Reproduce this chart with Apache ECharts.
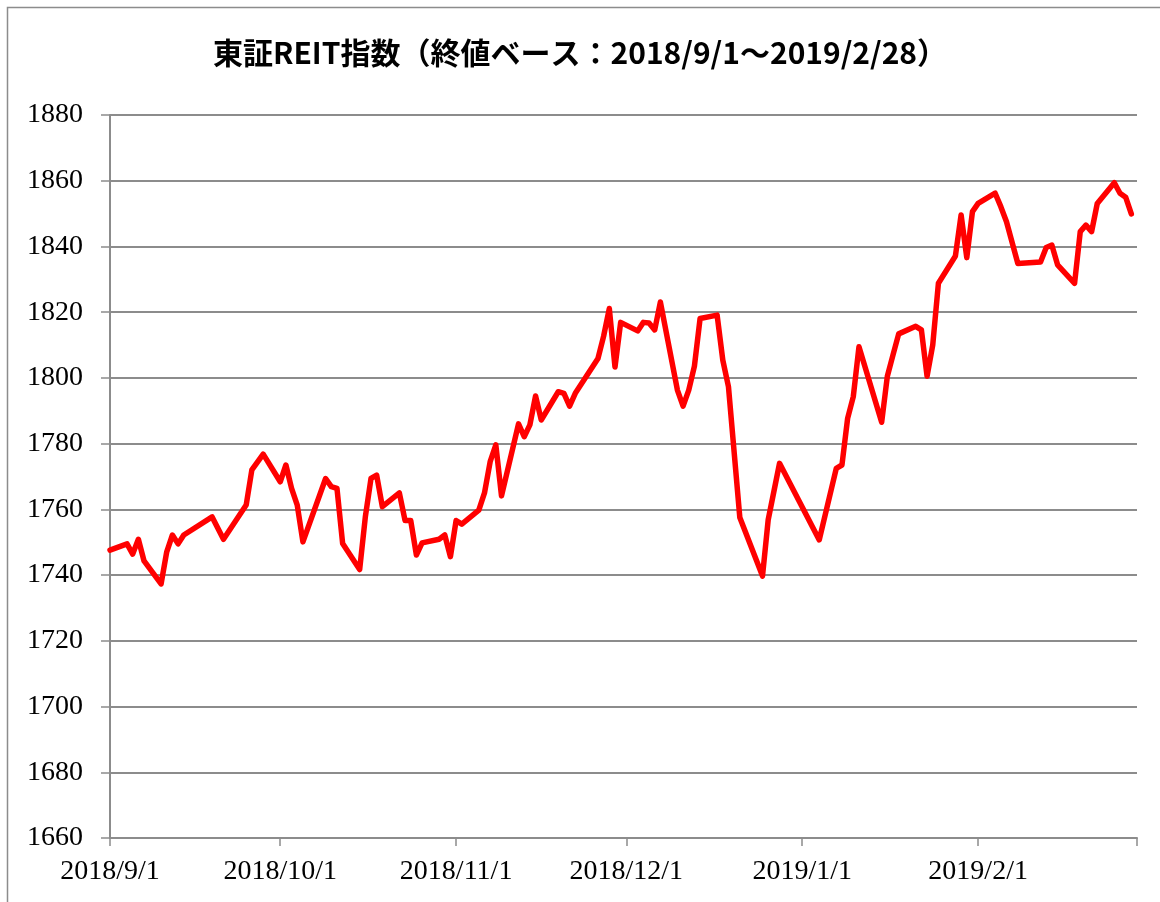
<!DOCTYPE html>
<html>
<head>
<meta charset="utf-8">
<script src="https://cdn.jsdelivr.net/npm/echarts@6/dist/echarts.min.js"></script>
<style>
html,body{margin:0;padding:0;background:#fff;}
#chart{width:1160px;height:902px;}
</style>
</head>
<body>
<div id="chart"></div>
<script>
const titleText = '東証REIT指数（終値ベース：2018/9/1～2019/2/28）';
const dates = [
'2018-09-01','2018-09-04','2018-09-05','2018-09-06','2018-09-07','2018-09-10','2018-09-11','2018-09-12','2018-09-13','2018-09-14',
'2018-09-19','2018-09-21','2018-09-25','2018-09-26','2018-09-28',
'2018-10-01','2018-10-02','2018-10-03','2018-10-04','2018-10-05','2018-10-09','2018-10-10','2018-10-11','2018-10-12',
'2018-10-15','2018-10-16','2018-10-17','2018-10-18','2018-10-19','2018-10-22','2018-10-23','2018-10-24','2018-10-25','2018-10-26',
'2018-10-29','2018-10-30','2018-10-31',
'2018-11-01','2018-11-02','2018-11-05','2018-11-06','2018-11-07','2018-11-08','2018-11-09','2018-11-12','2018-11-13','2018-11-14',
'2018-11-15','2018-11-16','2018-11-19','2018-11-20','2018-11-21','2018-11-22','2018-11-26','2018-11-27','2018-11-28','2018-11-29','2018-11-30',
'2018-12-03','2018-12-04','2018-12-05','2018-12-06','2018-12-07','2018-12-10','2018-12-11','2018-12-12','2018-12-13','2018-12-14',
'2018-12-17','2018-12-18','2018-12-19','2018-12-21','2018-12-25','2018-12-26','2018-12-28',
'2019-01-04','2019-01-07','2019-01-08','2019-01-09','2019-01-10','2019-01-11','2019-01-15','2019-01-16','2019-01-17','2019-01-18',
'2019-01-21','2019-01-22','2019-01-23','2019-01-24','2019-01-25','2019-01-28','2019-01-29','2019-01-30','2019-01-31',
'2019-02-01','2019-02-04','2019-02-05','2019-02-06','2019-02-08','2019-02-12','2019-02-13','2019-02-14','2019-02-15',
'2019-02-18','2019-02-19','2019-02-20','2019-02-21','2019-02-22','2019-02-25','2019-02-26','2019-02-27','2019-02-28'
];
const values = [
1747.6,1749.5,1746.4,1750.9,1744.3,1737.3,1747.1,1752.2,1749.5,1752.2,
1757.7,1750.9,1761.3,1772.0,1776.8,
1768.4,1773.5,1766.4,1761.3,1750.1,1769.4,1766.9,1766.4,1749.6,
1741.7,1757.7,1769.4,1770.4,1760.8,1765.0,1756.6,1756.6,1746.1,1749.8,
1750.9,1752.2,1745.6,
1756.6,1755.5,1759.8,1765.0,1774.5,1779.6,1764.1,1786.0,1782.1,1785.7,
1794.5,1787.2,1795.8,1795.3,1791.4,1795.3,1805.9,1812.7,1821.1,1803.3,1816.9,
1814.3,1816.9,1816.7,1814.6,1823.1,1796.3,1791.4,1796.3,1803.6,1818.1,
1819.1,1805.4,1797.3,1757.5,1739.7,1756.8,1774.0,
1750.7,1772.5,1773.5,1787.7,1794.3,1809.5,1786.5,1800.5,1807.0,1813.4,
1815.7,1814.6,1800.5,1810.0,1828.8,1837.1,1849.6,1836.6,1850.6,
1853.1,1856.2,1852.1,1847.5,1834.8,1835.3,1839.7,1840.4,1834.4,
1828.8,1844.5,1846.5,1844.5,1853.1,1859.4,1856.2,1855.0,1849.9
];
const xMin = '2018-09-01';
const xMax = '2019-03-01';
const tickDates = ['2018-09-01','2018-10-01','2018-11-01','2018-12-01','2019-01-01','2019-02-01','2019-03-01'];
const labelDates = ['2018-09-01','2018-10-01','2018-11-01','2018-12-01','2019-01-01','2019-02-01'];
const yMin = 1660, yMax = 1880, yStep = 20;

function ts(s){ const p = s.split('-').map(Number); return Date.UTC(p[0], p[1]-1, p[2]); }
function fmt(v){ const d = new Date(v); return d.getUTCFullYear() + '/' + (d.getUTCMonth()+1) + '/' + d.getUTCDate(); }

const chart = echarts.init(document.getElementById('chart'), null, {renderer:'canvas'});
const gridColor = '#8c8c8c';
chart.setOption({
  animation: false,
  backgroundColor: '#ffffff',
  title: {
    text: titleText,
    left: 'center',
    top: 33,
    textStyle: {
      fontFamily: '"Noto Sans CJK JP", "Noto Sans", sans-serif',
      fontWeight: 'bold',
      fontSize: 30,
      color: '#000'
    }
  },
  graphic: [{
    type: 'rect',
    shape: {x: 7.5, y: 7.5, width: 1200, height: 1000},
    style: {fill: 'none', stroke: '#8c8c8c', lineWidth: 1.5},
    silent: true
  }],
  grid: {left: 110, right: 23, top: 115, bottom: 64, containLabel: false},
  xAxis: {
    type: 'value',
    min: ts(xMin),
    max: ts(xMax),
    axisLine: {show: true, onZero: false, lineStyle: {color: gridColor, width: 2}},
    axisTick: {show: true, length: 8, lineStyle: {color: gridColor, width: 1.5}, customValues: tickDates.map(ts)},
    splitLine: {show: false},
    axisLabel: {
      customValues: labelDates.map(ts),
      formatter: fmt,
      fontFamily: '"Liberation Serif", "DejaVu Serif", serif',
      fontSize: 28,
      color: '#000',
      margin: 20,
      hideOverlap: false
    }
  },
  yAxis: {
    type: 'value',
    min: yMin,
    max: yMax,
    interval: yStep,
    axisLine: {show: true, lineStyle: {color: gridColor, width: 2}},
    axisTick: {show: true, length: 9, lineStyle: {color: gridColor, width: 1.5}},
    splitLine: {show: true, lineStyle: {color: gridColor, width: 2}},
    axisLabel: {
      formatter: function(v){ return String(v); },
      fontFamily: '"Liberation Serif", "DejaVu Serif", serif',
      fontSize: 28,
      color: '#000',
      margin: 27
    }
  },
  series: [{
    type: 'line',
    data: dates.map((d,i) => [ts(d), values[i]]),
    showSymbol: false,
    symbol: 'none',
    lineStyle: {color: '#ff0000', width: 5.5, join: 'round', cap: 'round'},
    itemStyle: {color: '#ff0000'},
    z: 5
  }]
});
</script>
</body>
</html>
